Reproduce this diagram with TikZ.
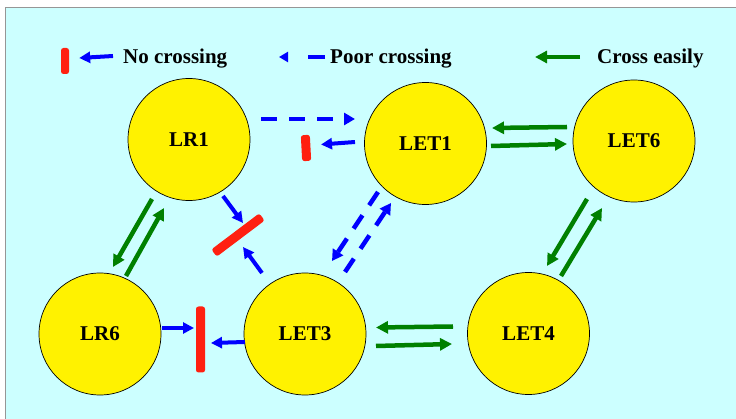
\documentclass[tikz,border=0pt]{standalone}
\usepackage{fontspec}
\setmainfont{Liberation Serif}
\usetikzlibrary{arrows.meta,calc}
\definecolor{bgc}{RGB}{204,255,255}
\definecolor{bluec}{RGB}{0,0,255}
\definecolor{greenc}{RGB}{0,128,0}
\definecolor{redc}{RGB}{255,32,16}
\definecolor{framec}{RGB}{150,150,150}
\begin{document}
\begin{tikzpicture}[x=1pt,y=-1pt,
  state/.style={circle,draw=black,line width=0.7pt,fill=yellow,minimum size=122pt,inner sep=0pt,font=\fontsize{21}{21}\selectfont\bfseries},
  redbar/.style={fill=redc,rounded corners=2.5pt,inner sep=0pt},
  noarr/.style={draw=bluec,line width=4pt,-{Triangle[length=11pt,width=11pt]}},
  poorarr/.style={draw=bluec,line width=4.5pt,dash pattern=on 16pt off 12pt,-{Triangle[length=11pt,width=12pt]}},
  easyarr/.style={draw=greenc,line width=4.5pt,-{Triangle[length=12pt,width=12pt]}},
  legendtxt/.style={anchor=base west,inner sep=0pt,font=\fontsize{21}{21}\selectfont\bfseries}]
\useasboundingbox (0,0) rectangle (736,419);
\fill[white] (0,0) rectangle (736,419);
\draw[fill=bgc,draw=framec,line width=0.8pt] (5.5,7.5) rectangle (745,430);

% legend
\node[redbar,minimum width=8pt,minimum height=26pt] (lgbar) at (65,61) {};
\node[legendtxt] (lgno) at (123,63.5) {No crossing};
\node[legendtxt] (lgpoor) at (330,63.5) {Poor crossing};
\node[legendtxt] (lgeasy) at (597,63.5) {Cross easily};
\draw[noarr] ($(lgno.base west)+(-10,-7.5)$) -- ($(lgbar.east)+(10,-3)$);
\draw[draw=bluec,line width=4.5pt,dash pattern=on 17pt off 20pt,-{Triangle[length=9pt,width=10pt]}]
  ($(lgpoor.base west)+(-5,-6.5)$) -- ($(lgpoor.base west)+(-51,-6.5)$);
\draw[easyarr] ($(lgeasy.base west)+(-17,-6.5)$) -- ($(lgeasy.base west)+(-62,-6.5)$);

% states
\node[state] (LR1)  at (189,139.5) {LR1};
\node[state] (LET1) at (425.5,143.5) {LET1};
\node[state] (LET6) at (634,141) {LET6};
\node[state] (LR6)  at (100,334) {LR6};
\node[state] (LET3) at (305,334) {LET3};
\node[state] (LET4) at (528.5,333.5) {LET4};

% barriers
\node[redbar,minimum width=60pt,minimum height=9pt,rotate=37] (bar1) at (238,235) {};
\node[redbar,minimum width=9pt,minimum height=26pt,rotate=3] (bar2) at (306,148) {};
\node[redbar,minimum width=9pt,minimum height=66pt] (bar3) at (200.5,339.5) {};

% poor crossings (dashed)
\draw[poorarr] ($(LR1)+(72,-20.5)$) -- ($(LET1)+(-70.5,-24.5)$);
\draw[poorarr] ($(LET1)+(-47.5,48.5)$) -- ($(LET3)+(27,-73)$);
\draw[poorarr] ($(LET3)+(40,-62)$) -- ($(LET1)+(-34.5,59.5)$);

% no crossings
\draw[noarr] ($(LET1)+(-70.5,-1.5)$) -- ($(bar2)+(15,-3.5)$);
\draw[noarr] ($(LR1)+(34,56.5)$) -- ($(bar1)+(5,-12)$);
\draw[noarr] ($(LET3)+(-43,-61)$) -- ($(bar1)+(5,12)$);
\draw[noarr] ($(LET3)+(-60,8)$) -- ($(bar3)+(10.5,3.5)$);
\draw[noarr] ($(LR6)+(62,-6)$) -- ($(bar3)+(-6.5,-11.5)$);

% easy crossings
\draw[easyarr] ($(LET6)+(-67,-14)$) -- ($(LET1)+(66.5,-15.5)$);
\draw[easyarr] ($(LET1)+(65.5,2.5)$) -- ($(LET6)+(-67,3)$);
\draw[easyarr] ($(LET6)+(-47,58)$) -- ($(LET4)+(18.5,-67.5)$);
\draw[easyarr] ($(LET4)+(32.5,-57.5)$) -- ($(LET6)+(-32,67)$);
\draw[easyarr] ($(LET4)+(-75.5,-7)$) -- ($(LET3)+(71,-6.5)$);
\draw[easyarr] ($(LET3)+(71,12)$) -- ($(LET4)+(-76.5,10.5)$);
\draw[easyarr] ($(LR1)+(-37,59.5)$) -- ($(LR6)+(13,-67)$);
\draw[easyarr] ($(LR6)+(26,-58)$) -- ($(LR1)+(-25,68.5)$);
\end{tikzpicture}
\end{document}
